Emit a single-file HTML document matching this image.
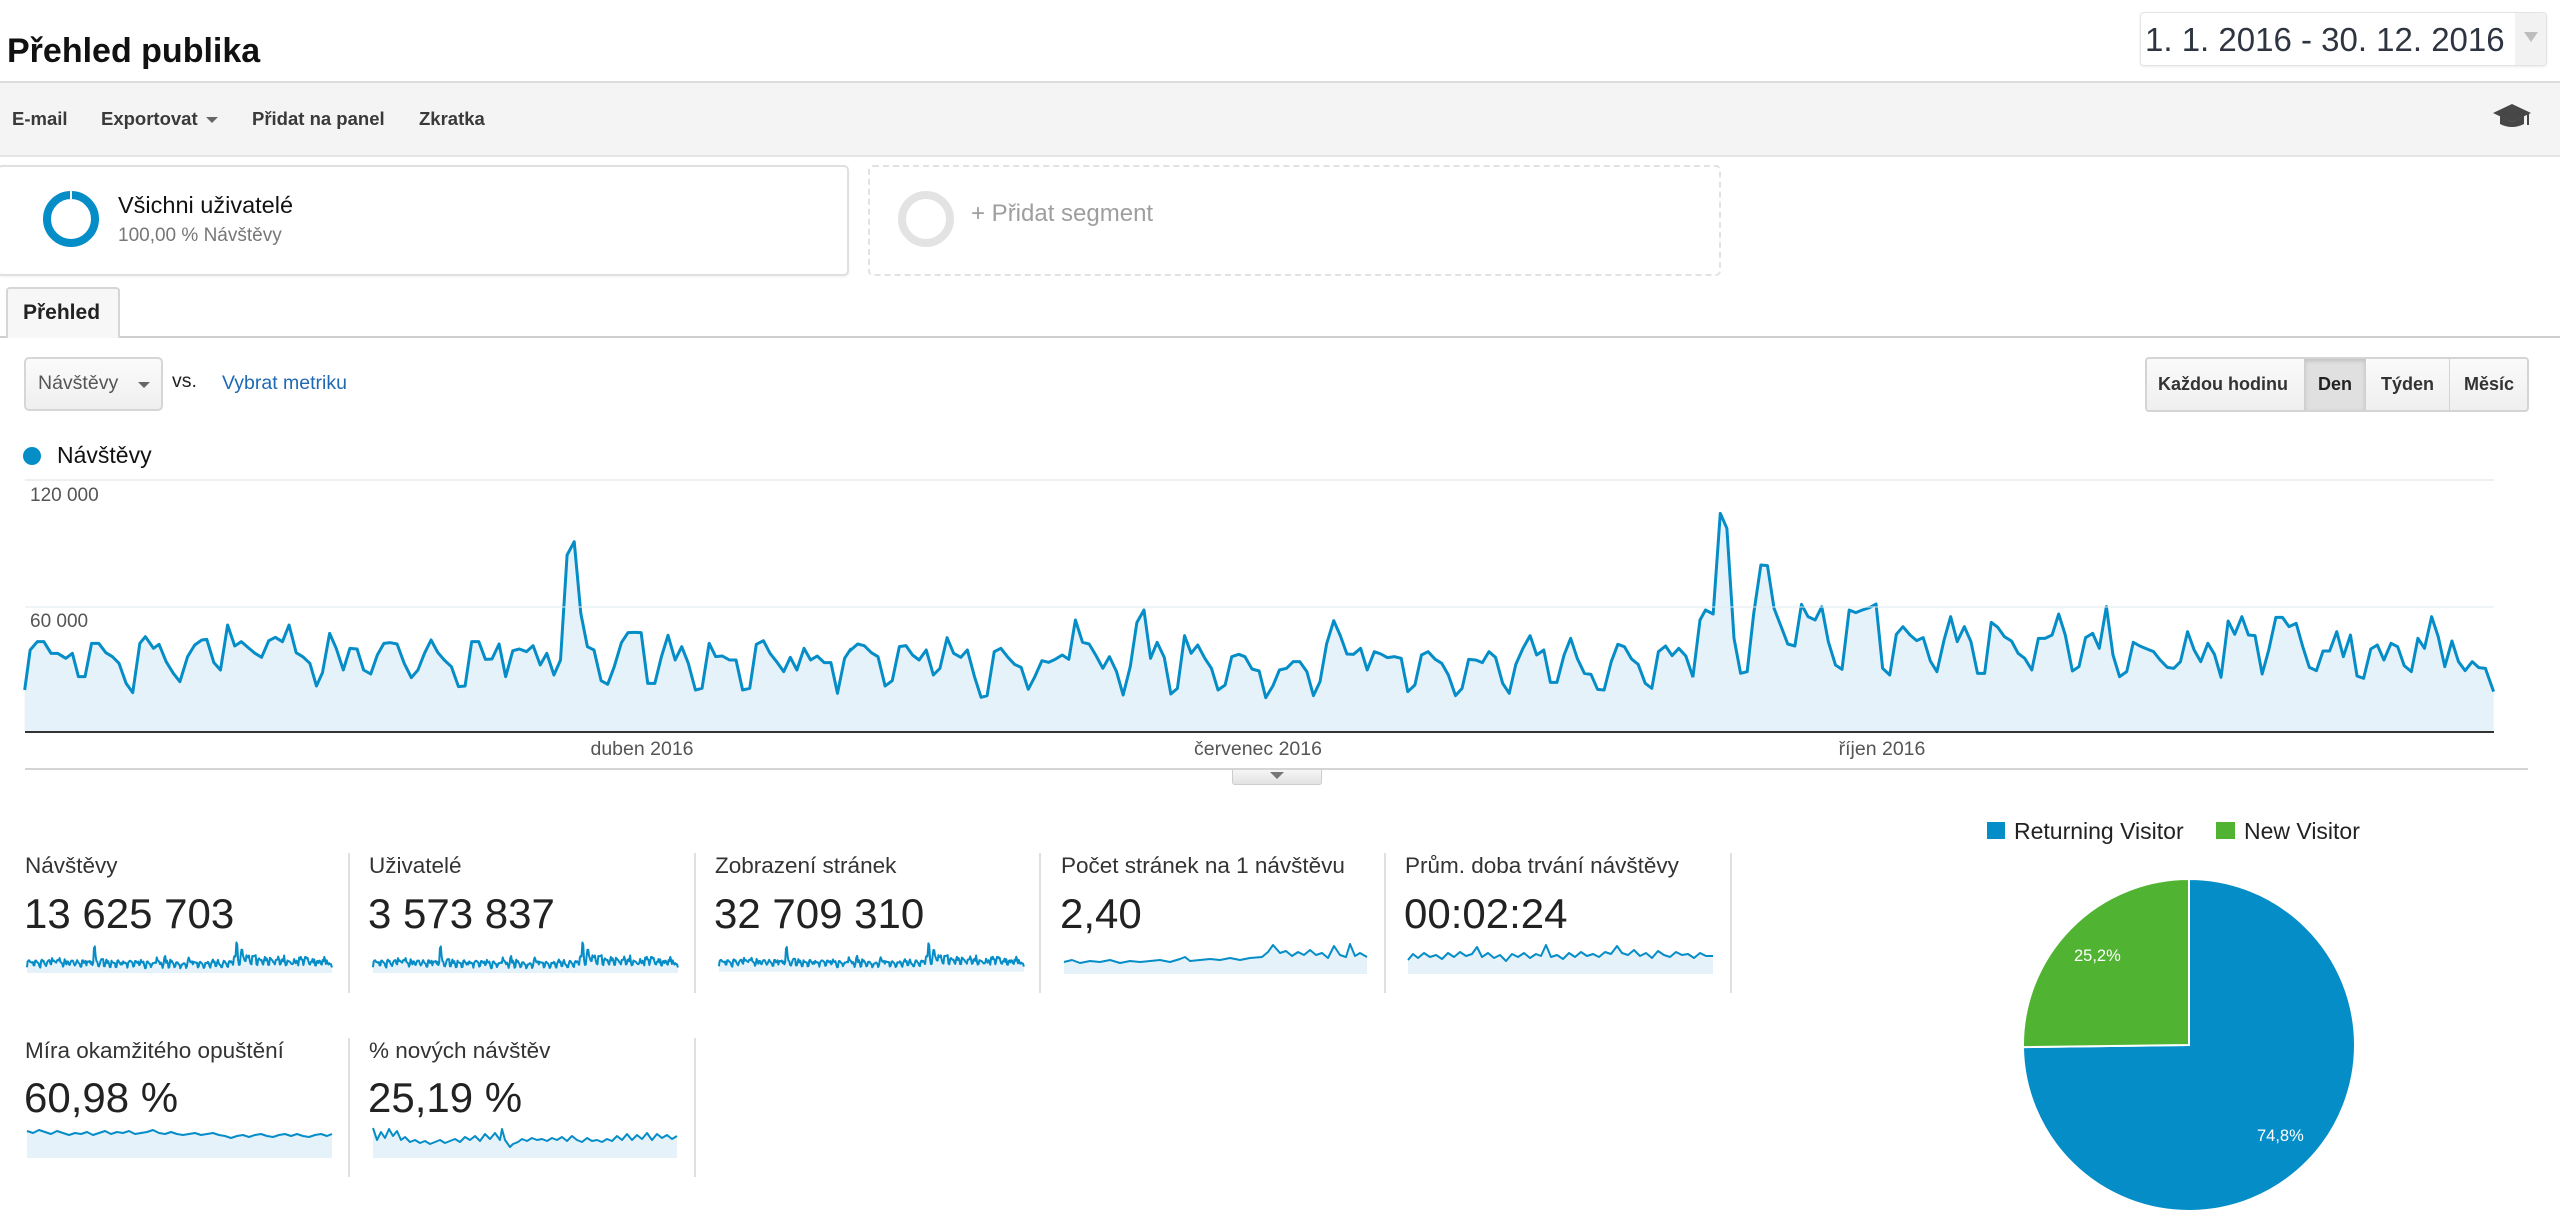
<!DOCTYPE html>
<html><head><meta charset="utf-8">
<style>
html,body{margin:0;padding:0;background:#fff;}
body{width:2560px;height:1219px;position:relative;overflow:hidden;font-family:"Liberation Sans",sans-serif;}
.t{position:absolute;line-height:1;white-space:nowrap;font-family:"Liberation Sans",sans-serif;}
.b{font-weight:bold;}
.box{position:absolute;box-sizing:border-box;}
</style></head><body>

<!-- toolbar band -->
<div class="box" style="left:0;top:81px;width:2560px;height:76px;background:#f4f4f4;border-top:2px solid #dcdcdc;border-bottom:2px solid #e6e6e6;"></div>

<!-- date box -->
<div class="box" style="left:2140px;top:12px;width:407px;height:54px;border:1px solid #e3e3e3;border-radius:4px;background:#fff;box-shadow:0 1px 2px rgba(0,0,0,0.08);"></div>
<div class="box" style="left:2515px;top:13px;width:31px;height:52px;background:#f2f2f2;border-radius:0 4px 4px 0;"></div>

<!-- segment boxes -->
<div class="box" style="left:-3px;top:165px;width:852px;height:111px;border:2px solid #e0e0e0;border-radius:5px;background:#fff;box-shadow:0 1px 2px rgba(0,0,0,0.06);"></div>
<div class="box" style="left:868px;top:165px;width:853px;height:111px;border:2px dashed #e2e2e2;border-radius:5px;"></div>

<!-- tab -->
<div class="box" style="left:0;top:336px;width:2560px;height:2px;background:#cfcfcf;"></div>
<div class="box" style="left:6px;top:287px;width:114px;height:51px;border:2px solid #d6d6d6;border-bottom:none;border-radius:4px 4px 0 0;background:#f7f7f7;"></div>

<!-- dropdown -->
<div class="box" style="left:24px;top:357px;width:139px;height:54px;border:2px solid #d6d6d6;border-radius:5px;background:linear-gradient(#fbfbfb,#efefef);"></div>

<!-- period buttons -->
<div class="box" style="left:2145px;top:357px;width:384px;height:55px;border:2px solid #d4d4d4;border-radius:4px;background:linear-gradient(#fafafa,#efefef);"></div>
<div class="box" style="left:2304px;top:359px;width:62px;height:51px;background:#e0e0e0;box-shadow:inset 0 2px 4px rgba(0,0,0,0.15);border-left:1px solid #cfcfcf;border-right:1px solid #cfcfcf;"></div>
<div class="box" style="left:2449px;top:359px;width:1px;height:51px;background:#d4d4d4;"></div>

<!-- chart handle -->
<div class="box" style="left:1232px;top:769px;width:90px;height:16px;border:1px solid #cdcdcd;border-top:none;border-radius:0 0 3px 3px;background:linear-gradient(#f7f7f7,#e2e2e2);"></div>

<svg width="2560" height="1219" style="position:absolute;left:0;top:0" xmlns="http://www.w3.org/2000/svg">
<defs>
<g id="series">
 <g transform="translate(0,470) scale(0.54845,0.33333)">
  <polygon fill="#e6f2f9" points="45,660 55,540 68,515 80,515 93,550 105,550 120,565 132,550 143,620 155,620 167,520 180,520 193,548 205,560 217,580 230,640 242,668 255,520 265,500 280,535 290,523 303,575 316,610 328,635 342,560 355,525 368,510 377,508 390,578 402,600 415,465 428,528 440,515 452,532 465,550 477,562 490,512 502,502 515,515 527,465 540,548 552,560 565,580 577,648 588,608 601,490 613,535 626,600 638,535 651,537 663,600 676,612 688,555 700,520 712,518 724,522 737,580 750,623 762,600 774,550 786,510 798,547 810,570 823,590 836,650 848,648 860,515 873,515 885,568 897,567 910,522 922,620 935,542 947,537 960,545 972,527 985,585 997,550 1010,615 1022,570 1034,255 1047,215 1059,430 1071,530 1083,540 1096,632 1108,643 1120,590 1133,518 1145,488 1157,487 1169,488 1181,640 1194,640 1206,560 1218,496 1231,570 1243,530 1255,580 1268,660 1280,655 1293,520 1305,560 1317,558 1330,570 1342,570 1354,660 1367,655 1379,523 1392,512 1404,550 1416,575 1429,605 1441,562 1453,600 1466,535 1478,570 1490,558 1503,578 1515,578 1527,670 1540,565 1552,535 1552,785 45,785"/>
 </g>
 <g transform="translate(850,470) scale(0.54845,0.33333)">
  <polygon fill="#e6f2f9" points="-2,545 14,522 26,527 39,548 51,560 64,648 77,632 90,530 102,527 114,555 126,570 139,540 152,615 164,595 177,503 189,550 202,562 214,540 227,620 239,682 250,677 263,545 275,535 288,562 300,583 312,592 325,658 337,620 350,572 362,577 374,568 387,555 399,568 411,450 424,517 436,522 449,558 461,595 473,560 486,605 498,675 511,590 523,458 536,420 548,565 560,517 573,562 585,672 597,655 610,497 622,550 634,525 647,565 659,595 671,660 684,645 696,560 709,553 720,560 733,597 746,603 758,683 771,648 783,600 796,595 808,575 820,575 833,605 845,677 857,635 869,522 882,452 894,497 906,552 918,553 931,535 943,600 956,545 968,552 980,563 993,560 1005,565 1017,665 1030,645 1042,555 1054,545 1067,568 1079,580 1091,615 1104,677 1116,655 1128,568 1141,570 1153,578 1165,545 1177,562 1190,640 1202,670 1214,583 1227,535 1240,497 1252,555 1265,540 1277,637 1289,637 1302,555 1314,505 1326,565 1339,610 1351,613 1363,658 1375,660 1388,575 1400,523 1412,530 1425,567 1437,583 1450,640 1462,655 1474,545 1487,528 1499,557 1511,535 1524,558 1537,622 1537,785 -2,785"/>
 </g>
 <g transform="translate(1700,470) scale(0.54845,0.33333)">
  <polygon fill="#e6f2f9" points="-13,622 0,450 10,420 24,432 37,130 49,175 62,505 74,610 86,605 98,430 111,285 123,287 135,415 148,470 160,522 173,528 185,403 197,440 210,450 222,410 234,515 247,585 259,598 272,420 284,428 296,420 309,413 321,402 333,595 346,615 358,493 370,470 383,495 395,512 407,503 420,573 432,605 445,510 457,440 469,515 482,470 494,515 506,610 519,610 531,457 543,472 555,500 568,513 580,550 592,565 605,600 617,505 629,505 642,495 654,432 666,495 679,603 691,590 703,503 716,490 728,535 741,410 753,555 765,620 778,605 790,517 802,528 815,537 827,545 839,570 852,592 864,595 876,575 889,485 901,540 913,575 926,520 938,553 950,622 963,453 975,493 988,440 1000,495 1012,497 1025,612 1037,540 1050,442 1062,442 1074,470 1087,460 1099,530 1111,592 1124,602 1136,543 1148,543 1161,485 1173,560 1186,495 1198,618 1210,625 1223,537 1235,525 1247,570 1260,520 1272,530 1284,587 1297,605 1309,505 1321,535 1334,440 1346,500 1358,590 1371,513 1383,575 1395,602 1408,575 1420,593 1432,595 1447,665 1447,785 -13,785"/>
 </g>
 <g transform="translate(0,470) scale(0.54845,0.33333)">
  <polyline fill="none" stroke="#058dc7" stroke-linejoin="round" vector-effect="non-scaling-stroke" points="45,660 55,540 68,515 80,515 93,550 105,550 120,565 132,550 143,620 155,620 167,520 180,520 193,548 205,560 217,580 230,640 242,668 255,520 265,500 280,535 290,523 303,575 316,610 328,635 342,560 355,525 368,510 377,508 390,578 402,600 415,465 428,528 440,515 452,532 465,550 477,562 490,512 502,502 515,515 527,465 540,548 552,560 565,580 577,648 588,608 601,490 613,535 626,600 638,535 651,537 663,600 676,612 688,555 700,520 712,518 724,522 737,580 750,623 762,600 774,550 786,510 798,547 810,570 823,590 836,650 848,648 860,515 873,515 885,568 897,567 910,522 922,620 935,542 947,537 960,545 972,527 985,585 997,550 1010,615 1022,570 1034,255 1047,215 1059,430 1071,530 1083,540 1096,632 1108,643 1120,590 1133,518 1145,488 1157,487 1169,488 1181,640 1194,640 1206,560 1218,496 1231,570 1243,530 1255,580 1268,660 1280,655 1293,520 1305,560 1317,558 1330,570 1342,570 1354,660 1367,655 1379,523 1392,512 1404,550 1416,575 1429,605 1441,562 1453,600 1466,535 1478,570 1490,558 1503,578 1515,578 1527,670 1540,565 1552,535"/>
 </g>
 <g transform="translate(850,470) scale(0.54845,0.33333)">
  <polyline fill="none" stroke="#058dc7" stroke-linejoin="round" vector-effect="non-scaling-stroke" points="-2,545 14,522 26,527 39,548 51,560 64,648 77,632 90,530 102,527 114,555 126,570 139,540 152,615 164,595 177,503 189,550 202,562 214,540 227,620 239,682 250,677 263,545 275,535 288,562 300,583 312,592 325,658 337,620 350,572 362,577 374,568 387,555 399,568 411,450 424,517 436,522 449,558 461,595 473,560 486,605 498,675 511,590 523,458 536,420 548,565 560,517 573,562 585,672 597,655 610,497 622,550 634,525 647,565 659,595 671,660 684,645 696,560 709,553 720,560 733,597 746,603 758,683 771,648 783,600 796,595 808,575 820,575 833,605 845,677 857,635 869,522 882,452 894,497 906,552 918,553 931,535 943,600 956,545 968,552 980,563 993,560 1005,565 1017,665 1030,645 1042,555 1054,545 1067,568 1079,580 1091,615 1104,677 1116,655 1128,568 1141,570 1153,578 1165,545 1177,562 1190,640 1202,670 1214,583 1227,535 1240,497 1252,555 1265,540 1277,637 1289,637 1302,555 1314,505 1326,565 1339,610 1351,613 1363,658 1375,660 1388,575 1400,523 1412,530 1425,567 1437,583 1450,640 1462,655 1474,545 1487,528 1499,557 1511,535 1524,558 1537,622"/>
 </g>
 <g transform="translate(1700,470) scale(0.54845,0.33333)">
  <polyline fill="none" stroke="#058dc7" stroke-linejoin="round" vector-effect="non-scaling-stroke" points="-13,622 0,450 10,420 24,432 37,130 49,175 62,505 74,610 86,605 98,430 111,285 123,287 135,415 148,470 160,522 173,528 185,403 197,440 210,450 222,410 234,515 247,585 259,598 272,420 284,428 296,420 309,413 321,402 333,595 346,615 358,493 370,470 383,495 395,512 407,503 420,573 432,605 445,510 457,440 469,515 482,470 494,515 506,610 519,610 531,457 543,472 555,500 568,513 580,550 592,565 605,600 617,505 629,505 642,495 654,432 666,495 679,603 691,590 703,503 716,490 728,535 741,410 753,555 765,620 778,605 790,517 802,528 815,537 827,545 839,570 852,592 864,595 876,575 889,485 901,540 913,575 926,520 938,553 950,622 963,453 975,493 988,440 1000,495 1012,497 1025,612 1037,540 1050,442 1062,442 1074,470 1087,460 1099,530 1111,592 1124,602 1136,543 1148,543 1161,485 1173,560 1186,495 1198,618 1210,625 1223,537 1235,525 1247,570 1260,520 1272,530 1284,587 1297,605 1309,505 1321,535 1334,440 1346,500 1358,590 1371,513 1383,575 1395,602 1408,575 1420,593 1432,595 1447,665"/>
 </g>
</g>
</defs>

<!-- toolbar icons -->
<polygon points="206,117 218,117 212,123" fill="#666"/>
<g fill="#474747">
 <polygon points="2512,104 2531,113 2512,122 2493,113"/>
 <path d="M2500,116 L2500,124 Q2512,130 2524,124 L2524,116 L2512,122 Z"/>
 <rect x="2527" y="113" width="2" height="12"/>
</g>
<!-- date arrow -->
<polygon points="2524,32 2538,32 2531,42" fill="#bdbdbd"/>

<!-- segment rings -->
<circle cx="71" cy="219" r="24" fill="none" stroke="#058dc7" stroke-width="8"/>
<rect x="70" y="190" width="2" height="10" fill="#fff"/>
<circle cx="926" cy="219" r="24" fill="none" stroke="#e3e3e3" stroke-width="8"/>

<!-- dropdown arrow -->
<polygon points="138,382 150,382 144,388" fill="#666"/>

<!-- legend dot -->
<circle cx="32" cy="456" r="9" fill="#058dc7"/>

<!-- chart grid -->
<rect x="25" y="479" width="2469" height="2" fill="#efefef"/>
<use href="#series" stroke-width="3"/>
<rect x="25" y="606" width="2469" height="2" fill="#dfe9ef" opacity="0.5"/>
<rect x="25" y="731" width="2469" height="2" fill="#333"/>
<rect x="25" y="768" width="2503" height="2" fill="#d4d4d4"/>
<polygon points="1270,772 1284,772 1277,779" fill="#777"/>

<!-- metric separators -->
<g fill="#e0e0e0">
 <rect x="348" y="853" width="2" height="140"/>
 <rect x="694" y="853" width="2" height="140"/>
 <rect x="1039" y="853" width="2" height="140"/>
 <rect x="1384" y="853" width="2" height="140"/>
 <rect x="1730" y="853" width="2" height="140"/>
 <rect x="348" y="1038" width="2" height="139"/>
 <rect x="694" y="1038" width="2" height="139"/>
</g>

<!-- sparklines from main series -->
<use href="#series" stroke-width="2" transform="translate(23.91,870.6) scale(0.12353,0.14)"/>
<use href="#series" stroke-width="2" transform="translate(369.9,870.6) scale(0.12353,0.14)"/>
<use href="#series" stroke-width="2" transform="translate(715.9,876.6) scale(0.12353,0.13)"/>

<!-- other sparklines -->
<g fill="#e6f2f9">
<polygon points="1064,962 1072,960 1080,963 1090,961 1100,962 1110,960 1120,963 1130,961 1140,962 1150,961 1160,960 1170,962 1180,959 1185,957 1190,961 1200,960 1210,959 1220,960 1230,958 1240,960 1250,958 1262,957 1268,952 1273,945 1280,953 1286,951 1292,956 1298,952 1304,955 1310,950 1316,955 1322,953 1328,958 1334,946 1340,955 1346,957 1350,944 1355,956 1360,953 1367,957 1367,974 1064,974"/>
<polygon points="1408,960 1413,954 1418,958 1424,953 1430,957 1436,955 1442,959 1448,953 1454,957 1460,952 1466,956 1472,954 1477,947 1482,957 1488,953 1494,958 1500,955 1506,961 1512,954 1518,957 1524,953 1530,958 1536,954 1541,956 1546,945 1551,957 1557,955 1563,959 1569,953 1575,957 1581,952 1587,956 1593,954 1599,957 1605,952 1611,954 1617,946 1622,953 1628,955 1634,950 1640,956 1646,953 1652,958 1658,951 1664,955 1670,957 1676,952 1682,955 1688,954 1694,958 1700,953 1706,956 1713,956 1713,974 1408,974"/>
<polygon points="27,1131 33,1133 39,1130 45,1132 51,1134 57,1131 63,1133 69,1135 75,1133 81,1134 87,1132 93,1135 99,1133 105,1131 111,1134 117,1132 123,1133 129,1131 135,1134 141,1133 147,1132 153,1130 159,1133 165,1134 171,1132 177,1134 183,1135 189,1134 195,1133 201,1135 207,1134 213,1133 219,1135 225,1136 231,1138 237,1136 243,1135 249,1137 255,1135 261,1134 267,1136 273,1137 279,1135 285,1134 291,1136 297,1134 303,1136 309,1137 315,1135 321,1134 327,1136 332,1134 332,1158 27,1158"/>
<polygon points="373,1128 377,1140 381,1132 385,1138 389,1129 393,1136 397,1131 401,1140 405,1137 410,1142 415,1140 420,1143 425,1141 430,1144 435,1142 440,1140 445,1143 450,1141 455,1139 460,1142 465,1137 470,1140 475,1136 480,1141 485,1134 490,1139 495,1133 500,1140 502,1129 505,1140 510,1147 513,1144 518,1142 522,1139 527,1141 532,1138 537,1140 542,1139 547,1141 552,1138 557,1140 562,1137 567,1141 572,1136 577,1140 582,1142 587,1138 592,1141 597,1140 602,1142 607,1139 612,1141 617,1136 622,1140 627,1134 632,1140 637,1135 642,1139 647,1133 652,1140 657,1134 662,1138 667,1135 672,1139 677,1136 677,1158 373,1158"/>
</g>
<g fill="none" stroke="#058dc7" stroke-width="2" stroke-linejoin="round">
<polyline points="1064,962 1072,960 1080,963 1090,961 1100,962 1110,960 1120,963 1130,961 1140,962 1150,961 1160,960 1170,962 1180,959 1185,957 1190,961 1200,960 1210,959 1220,960 1230,958 1240,960 1250,958 1262,957 1268,952 1273,945 1280,953 1286,951 1292,956 1298,952 1304,955 1310,950 1316,955 1322,953 1328,958 1334,946 1340,955 1346,957 1350,944 1355,956 1360,953 1367,957"/>
<polyline points="1408,960 1413,954 1418,958 1424,953 1430,957 1436,955 1442,959 1448,953 1454,957 1460,952 1466,956 1472,954 1477,947 1482,957 1488,953 1494,958 1500,955 1506,961 1512,954 1518,957 1524,953 1530,958 1536,954 1541,956 1546,945 1551,957 1557,955 1563,959 1569,953 1575,957 1581,952 1587,956 1593,954 1599,957 1605,952 1611,954 1617,946 1622,953 1628,955 1634,950 1640,956 1646,953 1652,958 1658,951 1664,955 1670,957 1676,952 1682,955 1688,954 1694,958 1700,953 1706,956 1713,956"/>
<polyline points="27,1131 33,1133 39,1130 45,1132 51,1134 57,1131 63,1133 69,1135 75,1133 81,1134 87,1132 93,1135 99,1133 105,1131 111,1134 117,1132 123,1133 129,1131 135,1134 141,1133 147,1132 153,1130 159,1133 165,1134 171,1132 177,1134 183,1135 189,1134 195,1133 201,1135 207,1134 213,1133 219,1135 225,1136 231,1138 237,1136 243,1135 249,1137 255,1135 261,1134 267,1136 273,1137 279,1135 285,1134 291,1136 297,1134 303,1136 309,1137 315,1135 321,1134 327,1136 332,1134"/>
<polyline points="373,1128 377,1140 381,1132 385,1138 389,1129 393,1136 397,1131 401,1140 405,1137 410,1142 415,1140 420,1143 425,1141 430,1144 435,1142 440,1140 445,1143 450,1141 455,1139 460,1142 465,1137 470,1140 475,1136 480,1141 485,1134 490,1139 495,1133 500,1140 502,1129 505,1140 510,1147 513,1144 518,1142 522,1139 527,1141 532,1138 537,1140 542,1139 547,1141 552,1138 557,1140 562,1137 567,1141 572,1136 577,1140 582,1142 587,1138 592,1141 597,1140 602,1142 607,1139 612,1141 617,1136 622,1140 627,1134 632,1140 637,1135 642,1139 647,1133 652,1140 657,1134 662,1138 667,1135 672,1139 677,1136"/>
</g>

<!-- pie -->
<path d="M2189,1045 L2189,879 A166,166 0 1 1 2023,1047.1 Z" fill="#058dc7" stroke="#fff" stroke-width="2"/>
<path d="M2189,1045 L2189,879 A166,166 0 0 0 2023,1047.1 Z" fill="#50b432" stroke="#fff" stroke-width="2"/>
<rect x="1987" y="822" width="18" height="17" fill="#058dc7"/>
<rect x="2216" y="822" width="19" height="17" fill="#50b432"/>
</svg>

<!-- texts -->
<div class="t b" style="left:7px;top:34px;font-size:34px;color:#111;">Přehled publika</div>
<div class="t" style="left:2145px;top:23px;font-size:33px;color:#2e3540;">1. 1. 2016 - 30. 12. 2016</div>

<div class="t b" style="left:12px;top:110px;font-size:18.5px;color:#3a3a3a;">E-mail</div>
<div class="t b" style="left:101px;top:110px;font-size:18.5px;color:#3a3a3a;">Exportovat</div>
<div class="t b" style="left:252px;top:110px;font-size:18.5px;color:#3a3a3a;">Přidat na panel</div>
<div class="t b" style="left:419px;top:110px;font-size:18.5px;color:#3a3a3a;">Zkratka</div>

<div class="t" style="left:118px;top:194px;font-size:23.5px;color:#111;">Všichni uživatelé</div>
<div class="t" style="left:118px;top:226px;font-size:19px;color:#777;">100,00 % Návštěvy</div>
<div class="t" style="left:971px;top:202px;font-size:24px;color:#9e9e9e;">+ Přidat segment</div>

<div class="t b" style="left:23px;top:302px;font-size:21px;color:#222;">Přehled</div>

<div class="t" style="left:38px;top:374px;font-size:19.5px;color:#555;">Návštěvy</div>
<div class="t" style="left:172px;top:372px;font-size:19.5px;color:#222;">vs.</div>
<div class="t" style="left:222px;top:374px;font-size:19.5px;color:#1f69b3;">Vybrat metriku</div>

<div class="t b" style="left:2158px;top:375px;font-size:18px;color:#333;">Každou hodinu</div>
<div class="t b" style="left:2304px;top:375px;width:62px;text-align:center;font-size:18px;color:#222;">Den</div>
<div class="t b" style="left:2366px;top:375px;width:83px;text-align:center;font-size:18px;color:#333;">Týden</div>
<div class="t b" style="left:2449px;top:375px;width:80px;text-align:center;font-size:18px;color:#333;">Měsíc</div>

<div class="t" style="left:57px;top:444px;font-size:23px;color:#111;">Návštěvy</div>
<div class="t" style="left:30px;top:486px;font-size:19px;color:#555;">120 000</div>
<div class="t" style="left:30px;top:612px;font-size:19px;color:#555;">60 000</div>

<div class="t" style="left:542px;top:740px;width:200px;text-align:center;font-size:19.5px;color:#555;">duben 2016</div>
<div class="t" style="left:1158px;top:740px;width:200px;text-align:center;font-size:19.5px;color:#555;">červenec 2016</div>
<div class="t" style="left:1782px;top:740px;width:200px;text-align:center;font-size:19.5px;color:#555;">říjen 2016</div>

<div class="t" style="left:25px;top:855px;font-size:22.5px;color:#333;">Návštěvy</div>
<div class="t" style="left:369px;top:855px;font-size:22.5px;color:#333;">Uživatelé</div>
<div class="t" style="left:715px;top:855px;font-size:22.5px;color:#333;">Zobrazení stránek</div>
<div class="t" style="left:1061px;top:855px;font-size:22.5px;color:#333;">Počet stránek na 1 návštěvu</div>
<div class="t" style="left:1405px;top:855px;font-size:22.5px;color:#333;">Prům. doba trvání návštěvy</div>

<div class="t" style="left:24px;top:893px;font-size:42px;color:#222;">13 625 703</div>
<div class="t" style="left:368px;top:893px;font-size:42px;color:#222;">3 573 837</div>
<div class="t" style="left:714px;top:893px;font-size:42px;color:#222;">32 709 310</div>
<div class="t" style="left:1060px;top:893px;font-size:42px;color:#222;">2,40</div>
<div class="t" style="left:1404px;top:893px;font-size:42px;color:#222;">00:02:24</div>

<div class="t" style="left:25px;top:1040px;font-size:22.5px;color:#333;">Míra okamžitého opuštění</div>
<div class="t" style="left:369px;top:1040px;font-size:22.5px;color:#333;">% nových návštěv</div>
<div class="t" style="left:24px;top:1077px;font-size:42px;color:#222;">60,98 %</div>
<div class="t" style="left:368px;top:1077px;font-size:42px;color:#222;">25,19 %</div>

<div class="t" style="left:2014px;top:820px;font-size:23px;color:#222;">Returning Visitor</div>
<div class="t" style="left:2244px;top:820px;font-size:23px;color:#222;">New Visitor</div>
<div class="t" style="left:2074px;top:948px;font-size:16.5px;color:#fff;">25,2%</div>
<div class="t" style="left:2257px;top:1128px;font-size:16.5px;color:#fff;">74,8%</div>

</body></html>
